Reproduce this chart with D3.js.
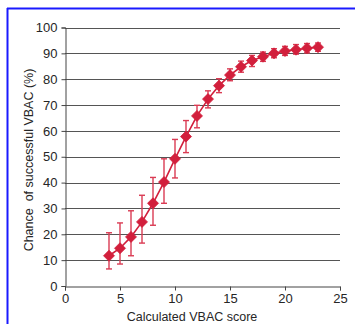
<!DOCTYPE html>
<style>
    body { margin: 0; background: #fff; }
    svg text { font-family: "Liberation Sans", Arial, sans-serif; fill: #262626; }
</style>
<svg width="355" height="324"></svg>

<script src="https://d3js.org/d3.v7.min.js"></script>
<script>
    // VBAC score vs chance of success, with error bars
    var scores = [4, 5, 6, 7, 8, 9, 10, 11, 12, 13, 14, 15, 16, 17, 18, 19, 20, 21, 22, 23];
    var chance = [11.7, 14.6, 19.0, 24.8, 32.0, 40.2, 49.2, 57.8, 65.8, 72.3, 77.5, 81.6, 84.8, 87.2, 88.7, 90.0, 90.9, 91.4, 92.0, 92.4];
    var upper  = [20.6, 24.4, 29.1, 35.1, 42.0, 49.2, 56.7, 64.0, 69.9, 75.5, 80.2, 84.0, 87.0, 89.2, 90.5, 91.8, 92.7, 93.4, 93.8, 94.0];
    var lower  = [6.6, 8.5, 11.7, 16.6, 23.5, 32.0, 41.8, 51.6, 61.2, 68.9, 74.8, 79.4, 82.7, 84.9, 86.9, 88.3, 89.2, 89.7, 90.2, 90.8];
    var xTicks = [0, 5, 10, 15, 20, 25];
    var yTicks = [0, 10, 20, 30, 40, 50, 60, 70, 80, 90, 100];

    var svg = d3.select("svg");
    var red = "#d21f3c";

    // partial blue frame (cropped figure border)
    svg.append("line").attr("x1", 7).attr("x2", 355).attr("y1", 8.5).attr("y2", 8.5)
        .attr("stroke", "#1a1aff").attr("stroke-width", 2);
    svg.append("line").attr("x1", 7.5).attr("x2", 7.5).attr("y1", 8).attr("y2", 324)
        .attr("stroke", "#1a1aff").attr("stroke-width", 2);

    var x = d3.scaleLinear().domain([0, 25]).range([65, 340]);
    var y = d3.scaleLinear().domain([0, 100]).range([286, 27.5]);

    // gridlines
    svg.append("g")
        .selectAll("line")
        .data(yTicks.slice(1))
        .enter().append("line")
        .attr("x1", x(0)).attr("x2", x(25))
        .attr("y1", function (d) { return Math.round(y(d)) + 0.5; })
        .attr("y2", function (d) { return Math.round(y(d)) + 0.5; })
        .attr("stroke", "#555").attr("stroke-width", 1);

    var yAxis = svg.append("g")
        .attr("transform", "translate(65.5,0)")
        .call(d3.axisLeft(y).tickValues(yTicks).tickSize(4).tickPadding(4));
    yAxis.select(".domain").attr("stroke", "#444");
    yAxis.selectAll("line").attr("stroke", "#444");
    yAxis.selectAll("text").attr("font-size", 13).attr("fill", "#262626");

    var xAxis = svg.append("g")
        .attr("transform", "translate(0,286.5)")
        .call(d3.axisBottom(x).tickValues(xTicks).tickSize(4).tickPadding(3));
    xAxis.select(".domain").attr("stroke", "#444");
    xAxis.selectAll("line").attr("stroke", "#444");
    xAxis.selectAll("text").attr("font-size", 13).attr("fill", "#262626");

    // axis titles
    svg.append("text")
        .attr("transform", "translate(33,160) rotate(-90)")
        .attr("text-anchor", "middle")
        .attr("font-size", 12.5)
        .attr("xml:space", "preserve")
        .text("Chance  of successful VBAC (%)");

    svg.append("text")
        .attr("x", 192)
        .attr("y", 321)
        .attr("text-anchor", "middle")
        .attr("font-size", 12.5)
        .text("Calculated VBAC score");

    var data = scores.map(function (s, i) {
        return { x: s, y: chance[i], hi: upper[i], lo: lower[i] };
    });

    // error bars
    var bars = svg.append("g").attr("stroke", "#da3b53").attr("stroke-width", 1.4);
    data.forEach(function (d) {
        bars.append("line")
            .attr("x1", x(d.x)).attr("x2", x(d.x))
            .attr("y1", y(d.hi)).attr("y2", y(d.lo));
        bars.append("line")
            .attr("x1", x(d.x) - 3).attr("x2", x(d.x) + 3)
            .attr("y1", y(d.hi)).attr("y2", y(d.hi));
        bars.append("line")
            .attr("x1", x(d.x) - 3).attr("x2", x(d.x) + 3)
            .attr("y1", y(d.lo)).attr("y2", y(d.lo));
    });

    // connecting line
    svg.append("path")
        .datum(data)
        .attr("fill", "none")
        .attr("stroke", red)
        .attr("stroke-width", 1.6)
        .attr("d", d3.line().x(function (d) { return x(d.x); }).y(function (d) { return y(d.y); }));

    // diamond markers
    svg.append("g")
        .selectAll("path")
        .data(data)
        .enter().append("path")
        .attr("transform", function (d) { return "translate(" + x(d.x) + "," + y(d.y) + ")"; })
        .attr("d", "M0,-5.5L5.5,0L0,5.5L-5.5,0Z")
        .attr("fill", red)
        .attr("stroke", red)
        .attr("stroke-width", 0.8)
        .attr("stroke-linejoin", "round");
</script>
